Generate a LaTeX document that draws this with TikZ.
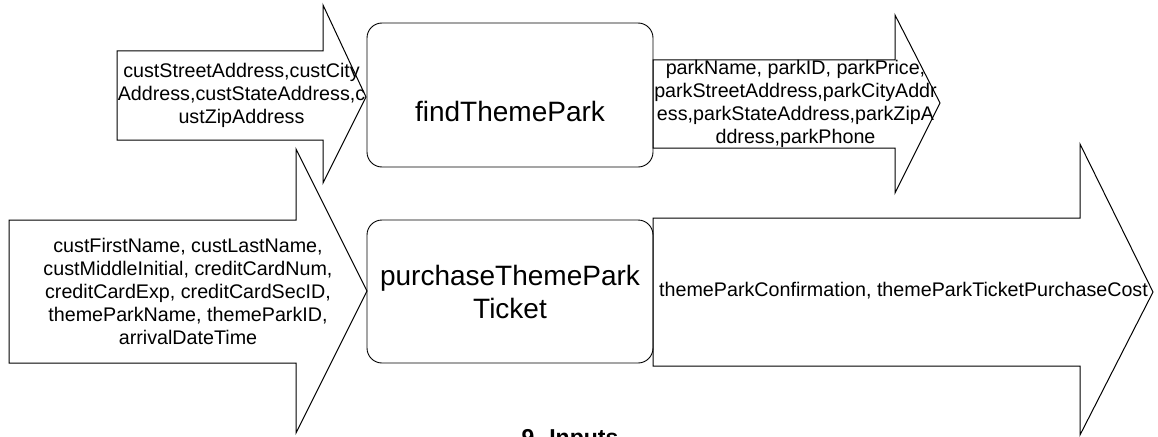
\documentclass[tikz,border=0pt]{standalone}
\usepackage{fontspec}
\setmainfont{Liberation Sans}
\begin{document}
\begin{tikzpicture}[x=1pt,y=-1pt,
  shape line/.style={draw=black,line width=1pt,line join=miter},
  procbox/.style={draw=black,line width=0.9pt,rounded corners=15pt,minimum width=286pt,inner sep=0pt},
  flowtext/.style={align=center,inner sep=0pt,font=\fontsize{19.7}{23}\selectfont},
  proctext/.style={align=center,inner sep=0pt,font=\fontsize{28}{33}\selectfont}]
\useasboundingbox (0,0) rectangle (1158,436);
\clip (0,0) rectangle (1158,436);
% process boxes
\node[procbox,minimum height=144pt] (find) at (510,95) {};
\node[procbox,minimum height=143pt] (purch) at (510,291.5) {};
\node[proctext] (findt) at (510,111) {findThemePark};
\node[proctext] (purcht) at (510,292) {purchaseThemePark\\Ticket};
% block arrows
\draw[shape line] (117,51) -- (323,51) -- (323,5) -- (366,97) -- (323,183) -- (323,140) -- (117,140) -- cycle;
\draw[shape line] (653,60) -- (895,60) -- (895,15) -- (940,103) -- (895,193) -- (895,148) -- (653,148) -- cycle;
\draw[shape line] (9,220) -- (296,220) -- (296,149) -- (367,291) -- (296,433) -- (296,363) -- (9,363) -- cycle;
\draw[shape line] (653,218) -- (1080,218) -- (1080,144) -- (1153,292) -- (1080,435) -- (1080,366) -- (653,366) -- cycle;
% arrow texts
\node[flowtext] (inA) at (241.5,95) {custStreetAddress,custCity\\Address,custStateAddress,c\\ustZipAddress};
\node[flowtext] (outA) at (795.5,104) {parkName, parkID, parkPrice,\\parkStreetAddress,parkCityAddr\\ess,parkStateAddress,parkZipA\\ddress,parkPhone};
\node[flowtext] (inB) at (188,291) {custFirstName, custLastName,\\custMiddleInitial, creditCardNum,\\creditCardExp, creditCardSecID,\\themeParkName, themeParkID,\\arrivalDateTime};
\node[flowtext] (outB) at (903.5,291) {themeParkConfirmation, themeParkTicketPurchaseCost};
% caption (cut off at bottom)
\node[anchor=base,inner sep=0pt,font=\fontsize{23}{27}\selectfont\bfseries] (cap) at (570,445.5) {9. Inputs};
\end{tikzpicture}
\end{document}
